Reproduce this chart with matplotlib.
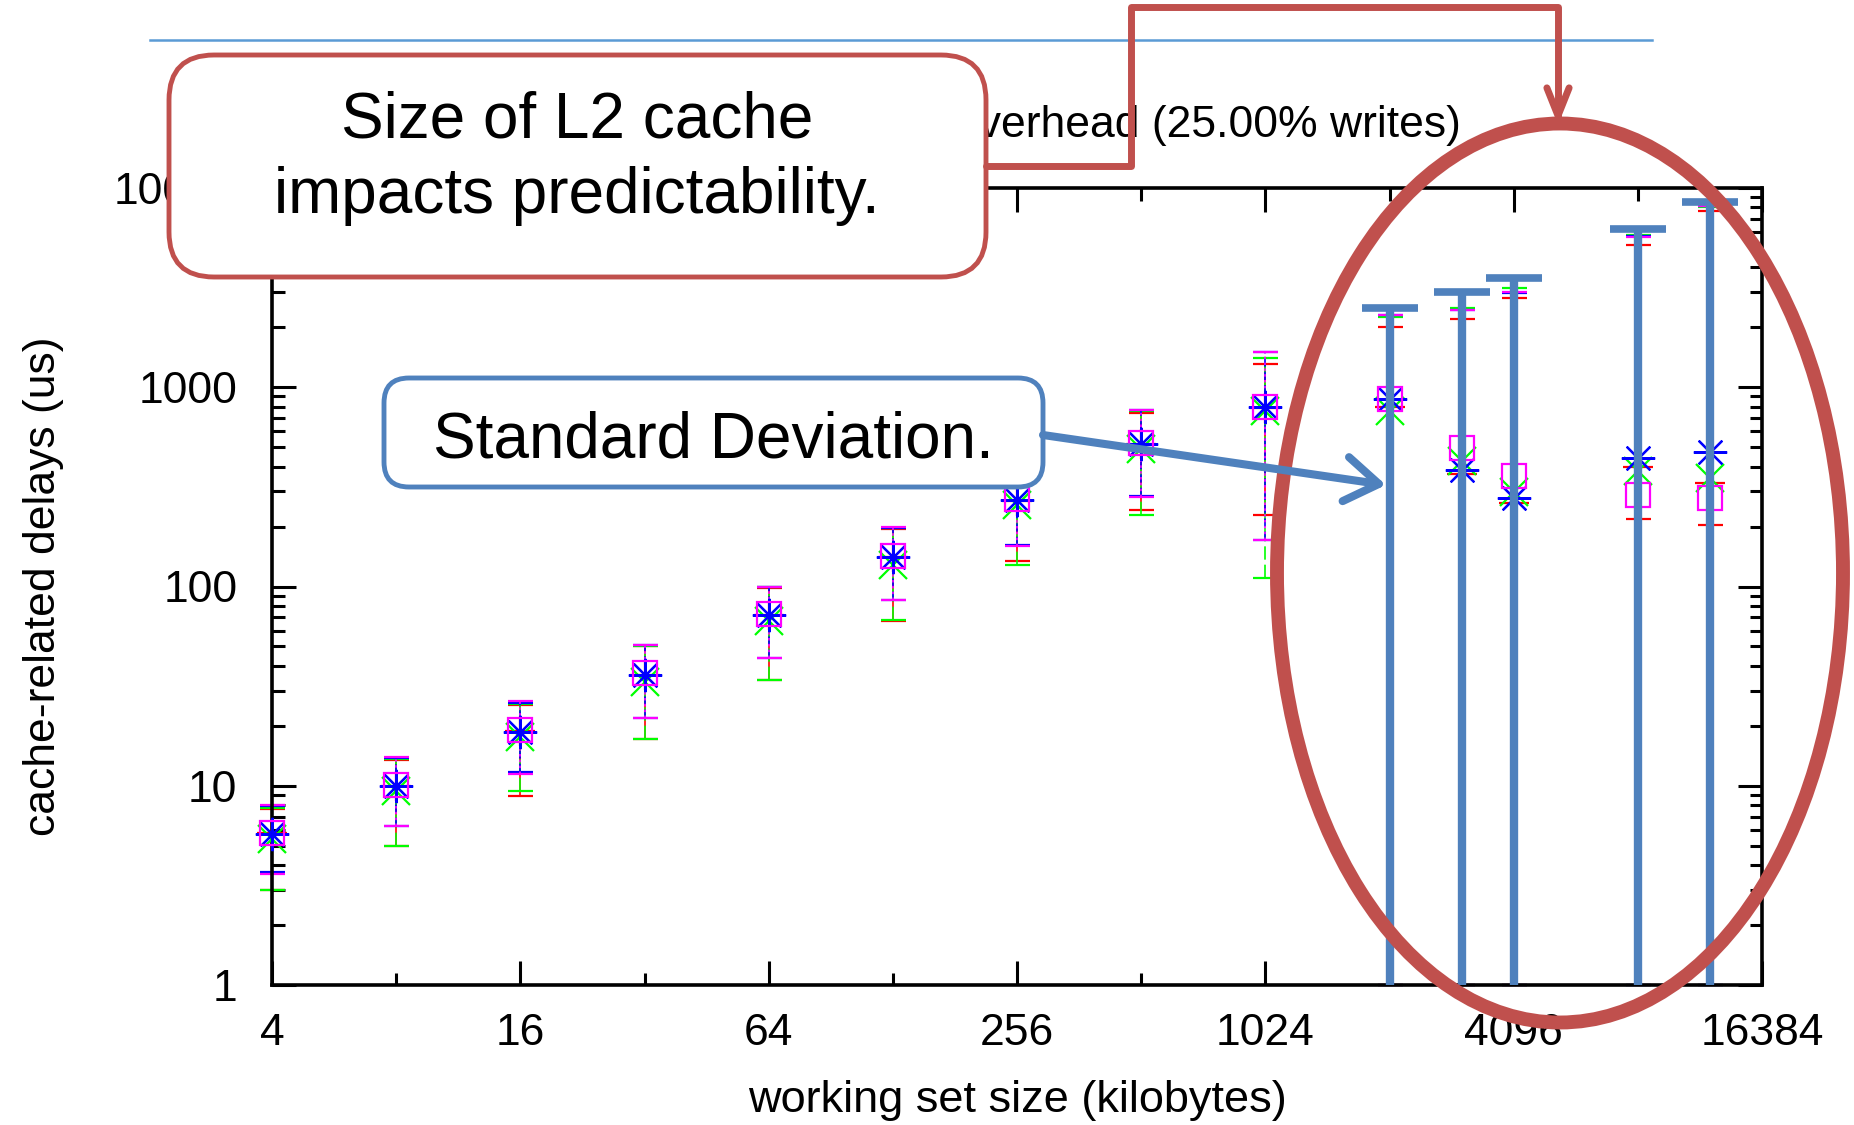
import numpy as np
import matplotlib.pyplot as plt
from matplotlib.patches import FancyBboxPatch, Ellipse, FancyArrowPatch
from matplotlib.lines import Line2D
from matplotlib.path import Path
from matplotlib.ticker import FixedLocator, NullFormatter, LogLocator, FuncFormatter

plt.rcParams['font.family'] = ['Liberation Sans', 'DejaVu Sans']

# working set sizes (KB)
sizes = [4, 8, 16, 32, 64, 128, 256, 512, 1024, 2048, 3072, 4096, 8192, 12288]

# four measurement series: mean, lower and upper whisker (lower=1 -> off the chart)
red_mean = [5.8, 10.0, 18.8, 36, 72, 140, 270, 520, 790, 800, 366, 262, 400, 330]
red_lo = [3.0, 5.0, 8.9, 17.1, 34, 67, 135, 242, 229, 1, 1, 1, 218, 203]
red_hi = [7.6, 13.5, 25.5, 50, 98, 195, 375, 745, 1306, 1995, 2188, 2818, 5165, 7670]

green_mean = [5.4, 9.4, 17.5, 33, 67, 128, 255, 490, 760, 760, 427, 297, 381, 352]
green_lo = [3.0, 5.0, 9.4, 17.1, 34, 68, 128, 229, 110, 1, 1, 1, 1, 1]
green_hi = [7.7, 13.6, 25.7, 50, 100, 197, 380, 760, 1400, 2250, 2494, 3143, 5800, 8000]

blue_mean = [5.7, 10.0, 18.7, 36, 72, 140, 272, 522, 792, 871, 385, 277, 444, 474]
blue_lo = [3.7, 6.3, 11.7, 22, 44, 86, 162, 283, 171, 1, 1, 1, 1, 1]
blue_hi = [7.9, 13.8, 26, 51, 100, 197, 385, 765, 1500, 2306, 2442, 2985, 5710, 8130]

mag_mean = [5.8, 10.1, 19.0, 37, 73, 142, 275, 525, 800, 871, 493, 358, 288, 279]
mag_lo = [3.6, 6.3, 11.5, 22, 44, 86, 160, 280, 171, 1, 1, 1, 1, 1]
mag_hi = [8.0, 14.0, 26.5, 51, 100, 200, 390, 770, 1500, 2300, 2450, 3000, 5700, 8100]

# standard deviation bars drawn over the large working sets
std_sizes = [2048, 3072, 4096, 8192, 12288]
std_top = [2510, 3020, 3550, 6210, 8550]

x_ticks = [4, 16, 64, 256, 1024, 4096, 16384]
x_minor = [8, 32, 128, 512, 2048, 8192]

RED = '#C0504D'
BLUE = '#4F81BD'

fig = plt.figure(figsize=(18.54, 11.25), dpi=100)
ax = fig.add_axes([272 / 1854, 140 / 1125, 1490 / 1854, 797 / 1125])
ax.set_xscale('log', base=2)
ax.set_yscale('log')
ax.set_xlim(4, 16384)
ax.set_ylim(1, 10000)

series = [
    (red_mean, red_lo, red_hi, '#ff0000', '+', '-', 22),
    (green_mean, green_lo, green_hi, '#00ff00', 'x', (0, (8, 3)), 20),
    (blue_mean, blue_lo, blue_hi, '#0000ff', (8, 2, 0), (0, (5, 3)), 24),
    (mag_mean, mag_lo, mag_hi, '#ff00ff', 's', (0, (1.5, 2)), 17),
]
for mean, lo, hi, col, mk, ls, ms in series:
    mean = np.array(mean, dtype=float)
    err = [mean - np.array(lo), np.array(hi) - mean]
    _, caps, bars = ax.errorbar(sizes, mean, yerr=err, fmt='none', ecolor=col,
                                elinewidth=1.2, capsize=9, capthick=1.6, clip_on=False)
    bars[0].set_linestyle(ls)
    ax.plot(sizes, mean, ls='none', marker=mk, ms=ms, mec=col, mfc='none',
            mew=1.6, clip_on=False, zorder=3)

# thick std dev bars
ax.vlines(std_sizes, 1, std_top, color=BLUE, lw=6, zorder=4)
ax.plot(std_sizes, std_top, ls='none', marker='_', ms=40, mew=5.5, color=BLUE, zorder=4)

ax.xaxis.set_major_locator(FixedLocator(x_ticks))
ax.xaxis.set_minor_locator(FixedLocator(x_minor))
ax.xaxis.set_major_formatter(FuncFormatter(lambda v, p: '%d' % v))
ax.xaxis.set_minor_formatter(NullFormatter())
ax.yaxis.set_major_locator(LogLocator(base=10))
ax.yaxis.set_minor_locator(LogLocator(base=10, subs=np.arange(2, 10)))
ax.yaxis.set_major_formatter(FuncFormatter(lambda v, p: '%d' % v))
ax.yaxis.set_minor_formatter(NullFormatter())
ax.tick_params(which='both', direction='in', top=True, right=True, width=2.2, labelsize=32)
ax.tick_params(which='major', length=17)
ax.tick_params(which='minor', length=9)
ax.tick_params(axis='x', pad=20)
ax.tick_params(axis='y', pad=25)
for s in ax.spines.values():
    s.set_linewidth(2.6)

ax.set_xlabel('working set size (kilobytes)', fontsize=32.5, labelpad=19)
ax.set_ylabel('cache-related delays (us)', fontsize=32, labelpad=36)

# chart title (its start is hidden behind the callout)
fig.text(1461 / 1854, 1 - 137 / 1125, 'overhead (25.00% writes)',
         ha='right', va='baseline', fontsize=32)

T = fig.dpi_scale_trans
H = 11.25


def px(x, y):
    return x / 100, H - y / 100


# top rule
fig.add_artist(Line2D([1.50, 16.52], [H - 0.40, H - 0.40], transform=T, color='#5B9BD5', lw=1.8))

# red callout with elbow connector
fig.add_artist(FancyBboxPatch(px(169, 277), 8.17, 2.22, boxstyle='round,pad=0,rounding_size=0.45',
                              transform=T, fc='white', ec=RED, lw=3.5, zorder=5))
fig.text(577 / 1854, 1 - 138 / 1125, 'Size of L2 cache', ha='center', va='baseline',
         fontsize=46, zorder=6)
fig.text(577 / 1854, 1 - 213 / 1125, 'impacts predictability.', ha='center', va='baseline',
         fontsize=46, zorder=6)
elbow = Path([px(986, 166), px(1131, 166), px(1131, 7), px(1558, 7), px(1558, 125)])
fig.add_artist(FancyArrowPatch(path=elbow, transform=T, arrowstyle='->,head_length=1.0,head_width=0.4',
                               mutation_scale=20, color=RED, lw=5, zorder=5))

# ellipse around the large working sets
fig.add_artist(Ellipse(px(1560, 573), 5.66, 8.99, transform=T, fill=False, ec=RED, lw=10, zorder=5))

# blue callout
fig.add_artist(FancyBboxPatch(px(384, 487), 6.59, 1.09, boxstyle='round,pad=0,rounding_size=0.25',
                              transform=T, fc='white', ec=BLUE, lw=3.5, zorder=5))
fig.text(713 / 1854, 1 - 457 / 1125, 'Standard Deviation.', ha='center', va='baseline',
         fontsize=46, zorder=6)
fig.add_artist(FancyArrowPatch(px(1043, 435), px(1386, 485), transform=T,
                               arrowstyle='->,head_length=1.2,head_width=0.8', mutation_scale=20,
                               shrinkA=0, shrinkB=0, color=BLUE, lw=5.8, zorder=5))

fig.savefig('out.png', dpi=100)
